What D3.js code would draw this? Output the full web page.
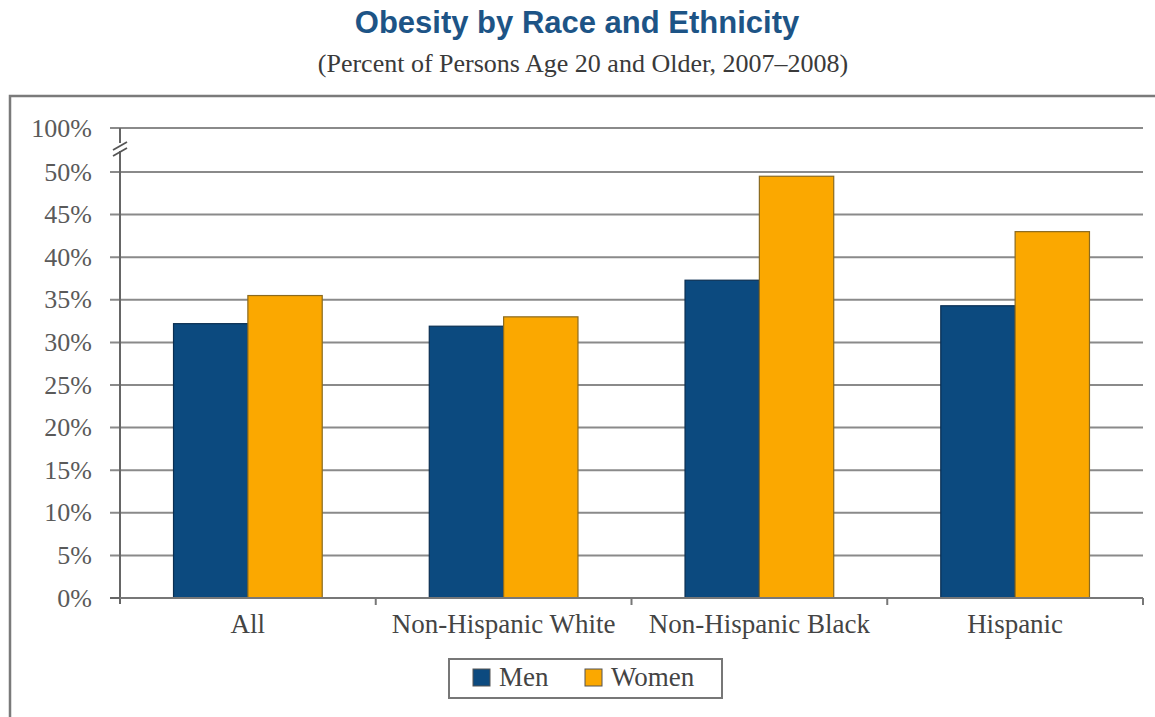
<!DOCTYPE html>
<html>
<head>
<meta charset="utf-8">
<script src="https://cdn.jsdelivr.net/npm/d3@7"></script>
<style>
html,body{margin:0;padding:0;background:#fff;}
svg{display:block;}
</style>
</head>
<body>
<svg id="chart" width="1155" height="717"></svg>
<script>
const categories = ["All", "Non-Hispanic White", "Non-Hispanic Black", "Hispanic"];
const seriesNames = ["Men", "Women"];
const menValues = [32.2, 31.9, 37.3, 34.3];
const womenValues = [35.5, 33.0, 49.5, 43.0];
const yTickValues = [0, 5, 10, 15, 20, 25, 30, 35, 40, 45, 50];
const yTopTick = 100;
const colors = {Men: "#0c4a7f", Women: "#fba800"};

const svg = d3.select("#chart");
const M = {left: 120, right: 1143, top: 172, bottom: 598};
const breakGap = 44;

// frame
svg.append("rect").attr("x", 10).attr("y", 96).attr("width", 1160).attr("height", 640)
  .attr("fill", "none").attr("stroke", "#7a7a7a").attr("stroke-width", 2.5);

// titles
svg.append("text").attr("x", 577).attr("y", 33).attr("text-anchor", "middle")
  .attr("font-family", "Liberation Sans, Arial, sans-serif").attr("font-weight", "bold")
  .attr("font-size", 31).attr("fill", "#1d5486").text("Obesity by Race and Ethnicity");
svg.append("text").attr("x", 583).attr("y", 72).attr("text-anchor", "middle")
  .attr("font-family", "Liberation Serif, Times New Roman, serif")
  .attr("font-size", 26).attr("fill", "#3a3a3a").text("(Percent of Persons Age 20 and Older, 2007\u20132008)");

const x = d3.scaleBand().domain(categories).range([M.left, M.right]).paddingInner(0).paddingOuter(0);
const xs = d3.scaleBand().domain(seriesNames).range([0, x.bandwidth()]).paddingInner(0).paddingOuter(0.72);
const y = d3.scaleLinear().domain([0, 50]).range([M.bottom, M.top]);
const yTop = y(50) - breakGap;

const labelFont = "Liberation Serif, Times New Roman, serif";

// gridlines
const grid = svg.append("g");
grid.selectAll("line.g").data(yTickValues.filter(d => d > 0)).enter().append("line")
  .attr("x1", M.left - 10).attr("x2", M.right).attr("y1", d => y(d)).attr("y2", d => y(d))
  .attr("stroke", "#8a8a8a").attr("stroke-width", 2);
grid.append("line").attr("x1", M.left - 10).attr("x2", M.right).attr("y1", yTop).attr("y2", yTop)
  .attr("stroke", "#8a8a8a").attr("stroke-width", 2);

// bars
const data = categories.map((c, i) => ({cat: c, vals: [{s: "Men", v: menValues[i]}, {s: "Women", v: womenValues[i]}]}));
const g = svg.append("g");
g.selectAll("g.cat").data(data).enter().append("g")
  .attr("transform", d => `translate(${x(d.cat)},0)`)
  .selectAll("rect").data(d => d.vals).enter().append("rect")
  .attr("x", d => xs(d.s)).attr("width", xs.bandwidth())
  .attr("y", d => y(d.v)).attr("height", d => y(0) - y(d.v))
  .attr("fill", d => colors[d.s])
  .attr("stroke", d => d.s === "Men" ? "#0a2f52" : "#8a6a20").attr("stroke-width", 1.2);

// y axis line with break
const ax = svg.append("g").attr("stroke", "#666").attr("stroke-width", 2);
ax.append("line").attr("x1", M.left).attr("x2", M.left).attr("y1", yTop).attr("y2", M.bottom + 6);
ax.append("line").attr("x1", M.left - 10).attr("x2", M.left).attr("y1", M.bottom).attr("y2", M.bottom);
// break marks
const by = yTop + 21;
svg.append("rect").attr("x", M.left - 6).attr("y", by - 6).attr("width", 12).attr("height", 8).attr("fill", "#fff");
[-3, 3].forEach(o => svg.append("line").attr("x1", M.left - 7).attr("x2", M.left + 7)
  .attr("y1", by + o + 4).attr("y2", by + o - 4).attr("stroke", "#555").attr("stroke-width", 1.8));

// x axis
svg.append("line").attr("x1", M.left).attr("x2", M.right).attr("y1", M.bottom).attr("y2", M.bottom)
  .attr("stroke", "#777").attr("stroke-width", 2);
const bounds = categories.map(c => x(c)).concat([M.right]);
svg.selectAll("line.xt").data(bounds.slice(1)).enter().append("line")
  .attr("x1", d => d).attr("x2", d => d).attr("y1", M.bottom).attr("y2", M.bottom + 7)
  .attr("stroke", "#777").attr("stroke-width", 2);

// y labels
svg.selectAll("text.yl").data(yTickValues).enter().append("text")
  .attr("x", 92).attr("y", d => y(d) + 8.5).attr("text-anchor", "end")
  .attr("font-family", labelFont).attr("font-size", 26).attr("fill", "#5a5a5a")
  .text(d => d + "%");
svg.append("text").attr("x", 92).attr("y", yTop + 8.5).attr("text-anchor", "end")
  .attr("font-family", labelFont).attr("font-size", 26).attr("fill", "#5a5a5a").text(yTopTick + "%");

// x labels
svg.selectAll("text.xl").data(categories).enter().append("text")
  .attr("x", d => x(d) + x.bandwidth() / 2).attr("y", 633).attr("text-anchor", "middle")
  .attr("font-family", labelFont).attr("font-size", 27).attr("fill", "#444").text(d => d);

// legend
const lg = svg.append("g");
lg.append("rect").attr("x", 449).attr("y", 659).attr("width", 273).attr("height", 39)
  .attr("fill", "#fff").attr("stroke", "#777").attr("stroke-width", 2);
const legX = {Men: 473, Women: 585};
seriesNames.forEach(s => {
  lg.append("rect").attr("x", legX[s]).attr("y", 669).attr("width", 17).attr("height", 17)
    .attr("fill", colors[s]).attr("stroke", "#555").attr("stroke-width", 1);
  lg.append("text").attr("x", legX[s] + 26).attr("y", 686).attr("font-family", labelFont)
    .attr("font-size", 27).attr("fill", "#444").text(s);
});
</script>
</body>
</html>
